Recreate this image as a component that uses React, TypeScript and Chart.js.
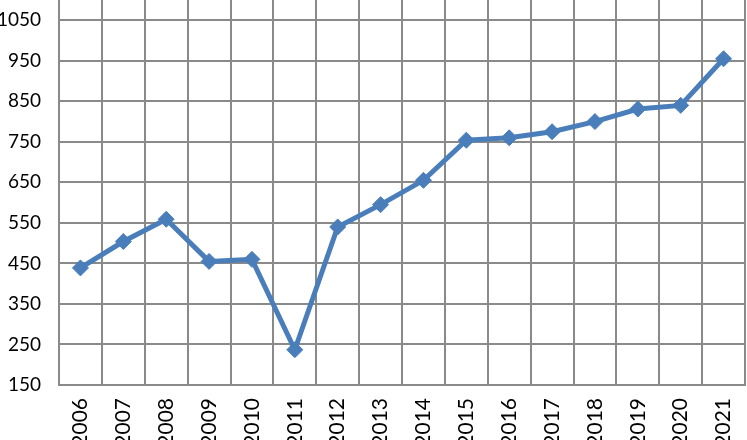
import React, { useEffect, useRef } from "react";
import { Chart, registerables } from "chart.js";

Chart.register(...registerables);

const years = ["2006","2007","2008","2009","2010","2011","2012","2013","2014","2015","2016","2017","2018","2019","2020","2021"];
const values = [439, 504, 559, 455, 460, 237, 540, 595, 655, 754, 760, 775, 800, 831, 840, 955];
const yTicks = [150, 250, 350, 450, 550, 650, 750, 850, 950, 1050];
const yMin = 150;
const yMax = 1100;

export default function App() {
  const ref = useRef<HTMLCanvasElement | null>(null);
  useEffect(() => {
    document.body.style.margin = "0";
    const ctx = ref.current!;
    const yFont = { family: "Lato", size: 19 };
    const xFont = { family: "Lato", size: 21 };
    const chart = new Chart(ctx, {
      type: "line",
      data: {
        labels: years,
        datasets: [
          {
            data: values,
            borderColor: "#4a7ebb",
            backgroundColor: "#4a7ebb",
            borderWidth: 5,
            pointStyle: "rectRot",
            pointRadius: 8,
            pointHoverRadius: 8,
            pointBorderWidth: 1,
            tension: 0,
            clip: false,
          },
        ],
      },
      options: {
        animation: false,
        responsive: false,
        maintainAspectRatio: false,
        layout: { autoPadding: false, padding: { top: 0, right: 2, left: 0, bottom: 0 } },
        plugins: { legend: { display: false }, tooltip: { enabled: false } },
        scales: {
          x: {
            offset: true,
            grid: { offset: true, color: "#8a8a8a", lineWidth: 2, drawTicks: false },
            border: { color: "#8a8a8a", width: 2 },
            ticks: { color: "#000", font: xFont, minRotation: 90, maxRotation: 90, padding: 13, autoSkip: false },
            afterFit: (s: any) => { s.height = 55; s.paddingLeft = 0; s.paddingRight = 0; },
          },
          y: {
            min: yMin,
            max: yMax,
            grid: { color: "#8a8a8a", lineWidth: 2, drawTicks: false },
            border: { color: "#8a8a8a", width: 2 },
            ticks: { color: "#000", font: yFont, padding: 18, callback: (v: any) => String(v) },
            afterBuildTicks: (s: any) => {
              s.ticks = yTicks.map((v) => ({ value: v }));
            },
            afterFit: (s: any) => { s.width = 59; s.paddingTop = 0; s.paddingBottom = 0; },
          },
        },
      },
    });
    return () => chart.destroy();
  }, []);
  return (
    <div style={{ position: "absolute", left: 0, top: 0, width: 747, height: 440, background: "#fff" }}>
      <canvas ref={ref} width={747} height={440} style={{ width: 747, height: 440 }} />
    </div>
  );
}
